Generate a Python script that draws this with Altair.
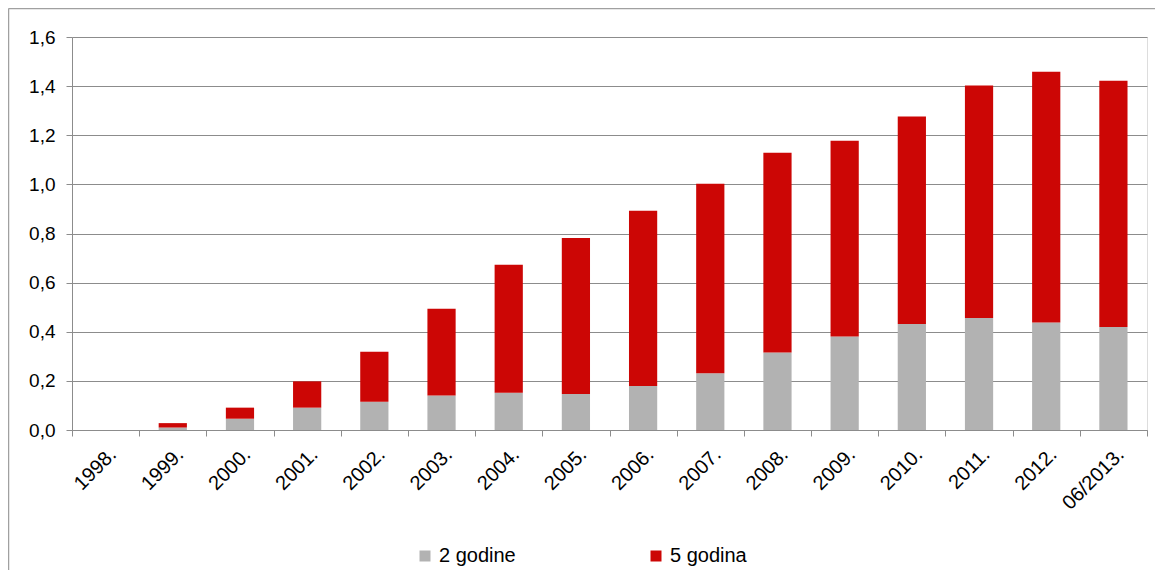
import altair as alt
import pandas as pd

categories = ["1998.", "1999.", "2000.", "2001.", "2002.", "2003.", "2004.", "2005.",
              "2006.", "2007.", "2008.", "2009.", "2010.", "2011.", "2012.", "06/2013."]
two_years = [0.0, 0.010, 0.046, 0.091, 0.115, 0.140, 0.152, 0.147,
             0.179, 0.231, 0.316, 0.381, 0.432, 0.456, 0.438, 0.419]
five_years = [0.0, 0.018, 0.045, 0.107, 0.204, 0.354, 0.521, 0.635,
              0.714, 0.772, 0.813, 0.797, 0.844, 0.947, 1.021, 1.003]
series_names = ["2 godine", "5 godina"]
series_colors = ["#B2B2B2", "#CC0605"]
y_ticks = [0.0, 0.2, 0.4, 0.6, 0.8, 1.0, 1.2, 1.4, 1.6]

rows = []
for i, c in enumerate(categories):
    rows.append({"cat": c, "series": series_names[0], "value": two_years[i], "ord": 0})
    rows.append({"cat": c, "series": series_names[1], "value": five_years[i], "ord": 1})
df = pd.DataFrame(rows)

FONT = "Liberation Sans"
GRID = "#8C8C8C"

bars = alt.Chart(df).mark_bar(width=alt.RelativeBandSize(0.42)).encode(
    x=alt.X("cat:N", sort=categories,
            scale=alt.Scale(paddingInner=0, paddingOuter=0),
            axis=alt.Axis(title=None, labelAngle=-45, tickBand="extent",
                          labelFont=FONT, labelFontSize=20, labelColor="#000000",
                          domainColor=GRID, tickColor=GRID, tickSize=6,
                          labelPadding=8, grid=False)),
    y=alt.Y("value:Q", stack="zero",
            scale=alt.Scale(domain=[0, 1.6], nice=False),
            axis=alt.Axis(title=None, values=y_ticks,
                          labelExpr="replace(format(datum.value, '.1f'), '.', ',')",
                          labelFont=FONT, labelFontSize=19, labelColor="#000000",
                          domainColor=GRID, tickColor=GRID, tickSize=6,
                          labelPadding=11, grid=True, gridColor=GRID)),
    color=alt.Color("series:N",
                    scale=alt.Scale(domain=series_names, range=series_colors),
                    legend=alt.Legend(title=None, orient="none", legendX=343, legendY=509,
                                      direction="horizontal", symbolType="square",
                                      symbolSize=121, symbolStrokeWidth=0,
                                      labelFont=FONT, labelFontSize=20,
                                      labelColor="#000000", labelOffset=4,
                                      columnPadding=130)),
    order=alt.Order("ord:Q"),
)

frame_left = alt.Chart(alt.Data(values=[{"k": 1}])).mark_rule(
    color="#A0A0A0", strokeWidth=1.5
).encode(x=alt.value(-63.5), y=alt.value(-28.5), y2=alt.value(600))

frame_top = alt.Chart(alt.Data(values=[{"k": 1}])).mark_rule(
    color="#A0A0A0", strokeWidth=1.5
).encode(x=alt.value(-63.5), x2=alt.value(1200), y=alt.value(-28.5))

chart = alt.layer(bars, frame_left, frame_top).properties(
    width=1075, height=393,
    padding={"left": 64, "top": 29, "right": 8, "bottom": 140},
    autosize="none",
).configure_view(stroke=GRID, strokeWidth=1).configure(background="white")

chart.save("out.html", embed_options={"renderer": "svg", "actions": False})
